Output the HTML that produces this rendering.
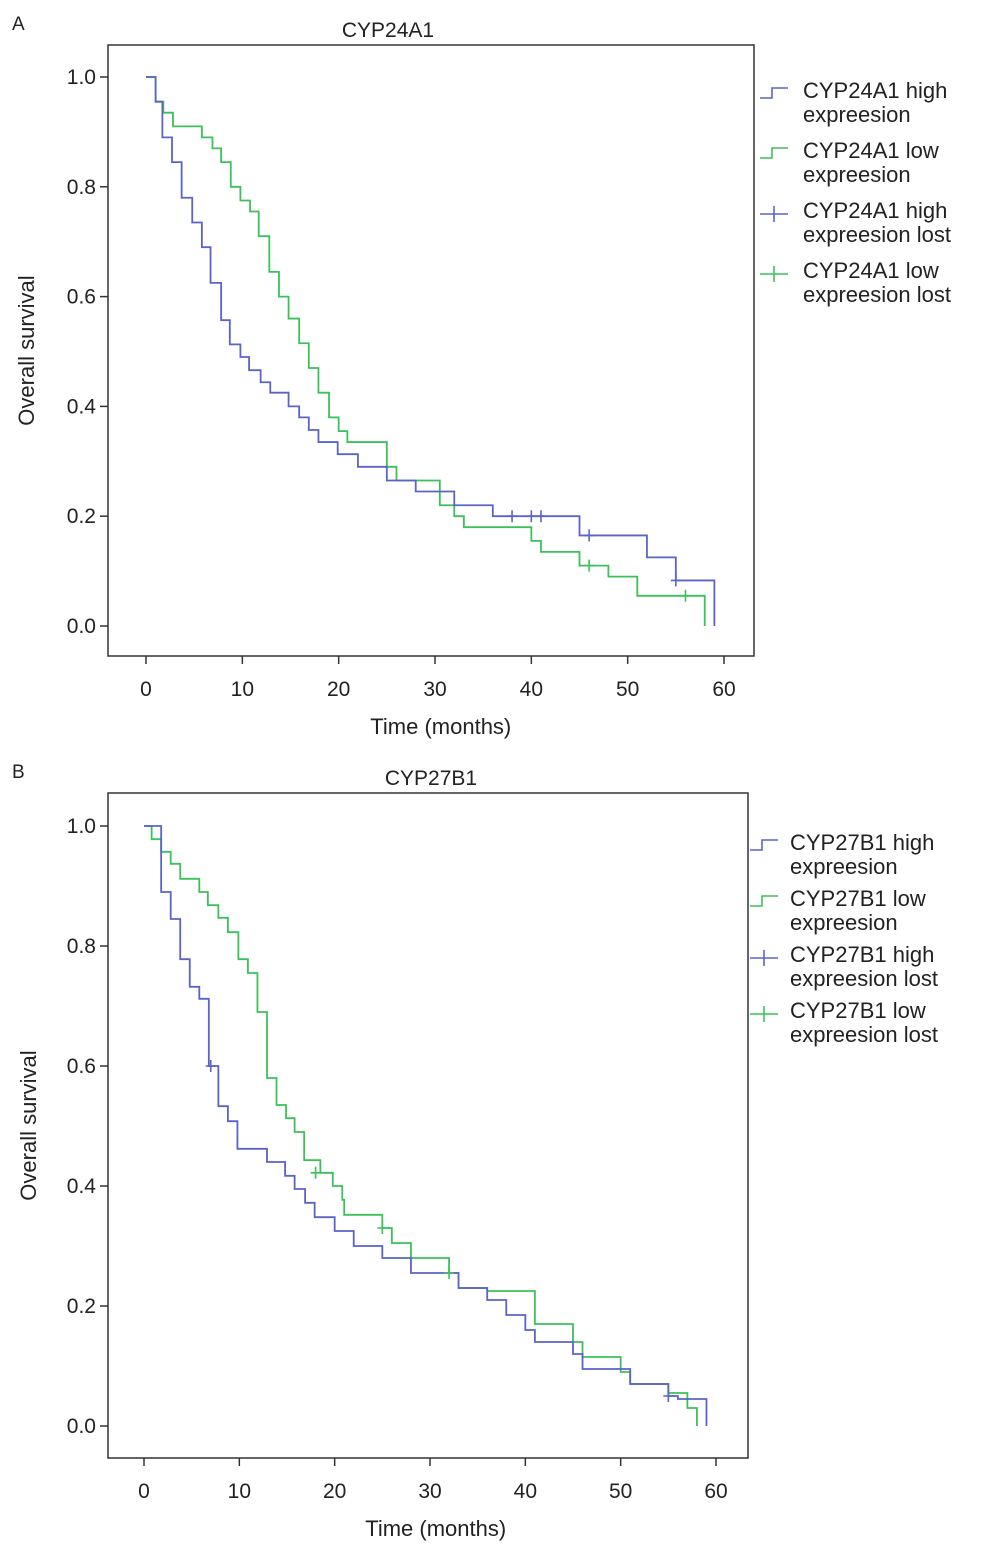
<!DOCTYPE html>
<html><head><meta charset="utf-8"><style>
body{margin:0;background:#fff;}
svg text{font-family:"Liberation Sans",Arial,sans-serif;fill:#222;}
</style></head><body>
<svg id="svg" width="983" height="1560"></svg>
<script>
// Panel A data: [time, survival] step points
const aHighT=[0,1,1.7,2.7,3.7,4.8,5.8,6.7,7.8,8.7,9.8,10.7,11.9,12.9,14.8,15.9,16.9,17.9,19.9,22,25,28,32,36,45,52,55,59];
const aHighS=[1,0.955,0.89,0.845,0.78,0.735,0.69,0.625,0.557,0.513,0.49,0.466,0.444,0.425,0.4,0.38,0.357,0.335,0.313,0.29,0.265,0.245,0.22,0.2,0.165,0.125,0.083,0];
const aHighCens=[[38,0.2],[40,0.2],[41,0.2],[46,0.165],[55,0.083]];
const aLowT=[0,1,1.8,2.8,5.8,6.9,7.8,8.8,9.8,10.8,11.7,12.8,13.8,14.8,15.9,16.9,17.9,19,20,20.9,25,26,30.5,32,33,40,41,45,48,51,58];
const aLowS=[1,0.955,0.935,0.91,0.89,0.87,0.845,0.8,0.775,0.755,0.71,0.645,0.6,0.56,0.515,0.47,0.425,0.38,0.355,0.335,0.29,0.265,0.22,0.2,0.18,0.155,0.135,0.11,0.09,0.055,0];
const aLowCens=[[46,0.11],[56,0.055]];
// Panel B data
const bHighT=[0,1.8,2.8,3.8,4.8,5.8,6.8,7.8,8.8,9.8,12.9,14.8,15.8,16.9,17.9,20,22,25,28,33,36,38,40,41,45,46,51,55,56,59];
const bHighS=[1,0.89,0.845,0.778,0.732,0.712,0.6,0.533,0.508,0.462,0.44,0.417,0.395,0.372,0.348,0.325,0.3,0.28,0.255,0.23,0.21,0.185,0.16,0.14,0.12,0.095,0.07,0.05,0.045,0];
const bHighCens=[[7,0.6],[55,0.05]];
const bLowT=[0,0.8,1.8,2.8,3.8,5.8,6.7,7.8,8.8,9.9,10.9,11.9,12.9,13.9,14.9,15.8,16.8,18.5,19.8,20.8,21,25,26,28,32,33,36,41,45,46,50,51,55,57,58];
const bLowS=[1,0.978,0.957,0.937,0.912,0.89,0.868,0.847,0.823,0.778,0.755,0.69,0.58,0.535,0.513,0.49,0.443,0.422,0.4,0.377,0.352,0.33,0.305,0.28,0.255,0.23,0.225,0.17,0.14,0.115,0.09,0.07,0.055,0.03,0];
const bLowCens=[[18,0.422],[25,0.33],[32,0.255]];
const xTicks=[0,10,20,30,40,50,60];
const yTicks=[0,0.2,0.4,0.6,0.8,1.0];

const NS='http://www.w3.org/2000/svg';
const svg=document.getElementById('svg');
function mk(tag,attrs,parent){const e=document.createElementNS(NS,tag);for(const k in attrs)e.setAttribute(k,attrs[k]);(parent||svg).appendChild(e);return e;}
function txt(x,y,s,size,anchor,parent){const t=mk('text',{x:x,y:y,'font-size':size,'text-anchor':anchor||'start'},parent);t.textContent=s;return t;}
const BLUE='#5b63c9',GREEN='#3cc15a';

function panel(p){
  const g=mk('g',{});
  
  
  const X=t=>p.x0+(p.x60-p.x0)*t/60, Y=s=>p.y0+(p.y1-p.y0)*s;
  const box=mk('rect',{x:p.bx,y:p.by,width:p.bw,height:p.bh,fill:'none',stroke:'#333','stroke-width':1.5},g);
  
  yTicks.forEach(v=>{mk('line',{x1:p.bx-8,x2:p.bx,y1:Y(v),y2:Y(v),stroke:'#333','stroke-width':1.5},g);
    const t=txt(p.bx-12,Y(v)+7,v.toFixed(1),21,'end',g);});
  xTicks.forEach(v=>{mk('line',{x1:X(v),x2:X(v),y1:p.by+p.bh,y2:p.by+p.bh+8,stroke:'#333','stroke-width':1.5},g);
    const t=txt(X(v),p.by+p.bh+40,String(v),21,'middle',g);});
  function curve(T,S,col,nm){let d='M'+X(T[0])+','+Y(S[0]);for(let i=1;i<T.length;i++){d+='H'+X(T[i])+'V'+Y(S[i]);}
    const pa=mk('path',{d:d,fill:'none',stroke:col,'stroke-width':1.8},g);}
  function cens(C,col,nm){C.forEach(c=>{const x=X(c[0]),y=Y(c[1]);const pa=mk('path',{d:`M${x-5},${y}H${x+5}M${x},${y-6}V${y+6}`,stroke:col,'stroke-width':1.6},g);});}
  curve(p.lowT,p.lowS,GREEN,'low-expression-curve');
  curve(p.highT,p.highS,BLUE,'high-expression-curve');
  cens(p.lowC,GREEN,'low-censor-mark');cens(p.highC,BLUE,'high-censor-mark');
  let t=txt(p.bx+p.bw/2-p.titleOff,p.by-8,p.title,21,'middle',g);
  t=txt(12,p.by-15,p.letter,19,'start',g);
  t=txt(0,0,'Overall survival',22,'middle',g);t.setAttribute('transform',`translate(${p.ylx},${(p.by+p.by+p.bh)/2}) rotate(-90)`);
  t=txt(X(30)+(p.x60-p.x0)*0.01,p.by+p.bh+78,'Time (months)',22,'middle',g);
  const labels=[[p.title+' high','expreesion',BLUE,false],[p.title+' low','expreesion',GREEN,false],[p.title+' high','expreesion lost',BLUE,true],[p.title+' low','expreesion lost',GREEN,true]];
  labels.forEach((L,i)=>{const ly=p.ly0+i*p.lstep;const lg=mk('g',{},g);
    const ix=p.lix;
    if(L[3]){mk('path',{d:`M${ix},${ly+6}H${ix+28}M${ix+14},${ly-2}V${ly+14}`,stroke:L[2],'stroke-width':1.6,fill:'none'},lg);}
    else{mk('path',{d:`M${ix},${ly+10}H${ix+12}V${ly}H${ix+28}`,stroke:L[2],'stroke-width':1.6,fill:'none'},lg);}
    txt(p.ltx,ly+10,L[0],22,'start',lg);txt(p.ltx,ly+34,L[1],22,'start',lg);});
}
panel({name:'panel-a-cyp24a1',letter:'A',title:'CYP24A1',bx:108,by:45,bw:646,bh:611,x0:146,x60:724,y0:626,y1:77,titleOff:43,ylx:34,
  highT:aHighT,highS:aHighS,highC:aHighCens,lowT:aLowT,lowS:aLowS,lowC:aLowCens,ly0:88,lstep:60,lix:760,ltx:803});
panel({name:'panel-b-cyp27b1',letter:'B',title:'CYP27B1',bx:108,by:793,bw:640,bh:665,x0:144,x60:716,y0:1426,y1:826,titleOff:-3,ylx:36,
  highT:bHighT,highS:bHighS,highC:bHighCens,lowT:bLowT,lowS:bLowS,lowC:bLowCens,ly0:840,lstep:56,lix:750,ltx:790});
</script>
</body></html>
